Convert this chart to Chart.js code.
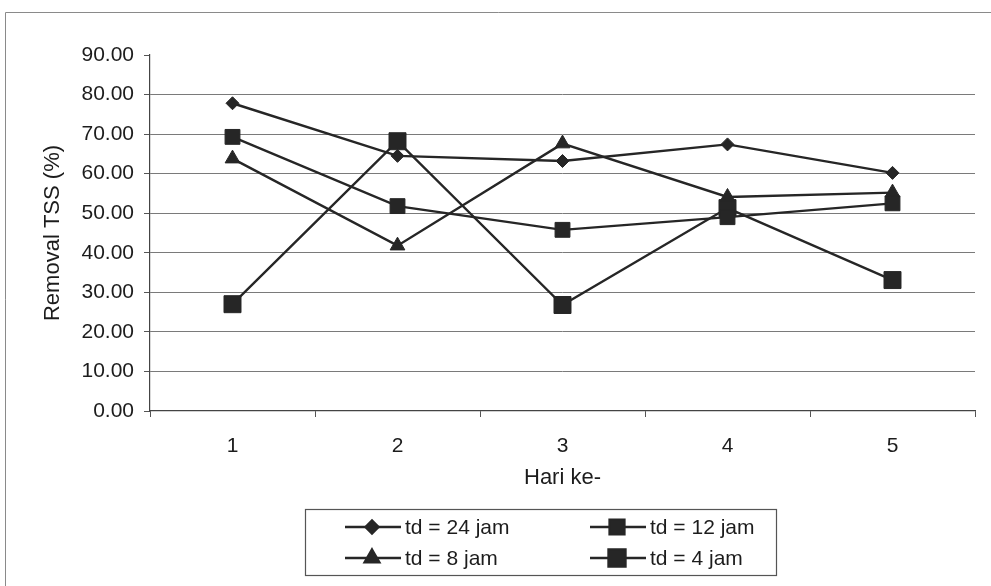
<!DOCTYPE html>
<html>
<head>
<meta charset="utf-8">
<script src="https://cdn.jsdelivr.net/npm/chart.js@4/dist/chart.umd.min.js"></script>
<style>
  html, body { margin: 0; padding: 0; background: #ffffff; }
  #wrap { position: relative; width: 991px; height: 586px; }
  canvas { display: block; }
</style>
</head>
<body>
<div id="wrap"><canvas id="c" width="991" height="586"></canvas></div>
<script>
// Days of observation
const days = ['1', '2', '3', '4', '5'];

// TSS removal (%) for each detention time
const td24 = [77.8, 64.5, 63.2, 67.4, 60.2];
const td12 = [69.3, 51.8, 45.8, 49.0, 52.5];
const td8  = [63.8, 41.8, 67.6, 54.1, 55.2];
const td4  = [27.0, 68.2, 26.8, 51.3, 33.1];

const seriesNames = ['td = 24 jam', 'td = 12 jam', 'td = 8 jam', 'td = 4 jam'];

// Y axis range and step
const yMin = 0, yMax = 90, yStep = 10;

const FONT = "'Liberation Sans', Arial, sans-serif";
const INK = '#262626';
const TEXT = '#1c1c1c';

function series(label, data, pointStyle, radius) {
  return {
    label, data, pointStyle,
    borderColor: INK,
    backgroundColor: INK,
    borderWidth: 2.4,
    pointRadius: radius,
    pointHoverRadius: radius,
    pointBackgroundColor: INK,
    pointBorderColor: INK,
    pointBorderWidth: 1,
    tension: 0,
    fill: false
  };
}

// Boxed legend below the plot, plus the thin outer frame
const boxedLegend = {
  id: 'boxedLegend',
  afterDraw(chart) {
    const ctx = chart.ctx;
    ctx.save();
    // outer frame
    ctx.strokeStyle = '#8a8a8a';
    ctx.lineWidth = 1;
    ctx.beginPath();
    ctx.moveTo(5.5, 586);
    ctx.lineTo(5.5, 12.5);
    ctx.lineTo(991, 12.5);
    ctx.stroke();

    // legend box
    const bx = 305.5, by = 509.5, bw = 471, bh = 66;
    ctx.strokeStyle = '#555';
    ctx.lineWidth = 1.2;
    ctx.strokeRect(bx, by, bw, bh);

    const cols = [345, 590];
    const rows = [527, 558];
    ctx.font = '21px ' + FONT;
    ctx.textBaseline = 'middle';
    chart.data.datasets.forEach((ds, i) => {
      const x = cols[i % 2];
      const y = rows[Math.floor(i / 2)];
      ctx.strokeStyle = INK;
      ctx.lineWidth = 2.4;
      ctx.beginPath();
      ctx.moveTo(x, y);
      ctx.lineTo(x + 56, y);
      ctx.stroke();
      ctx.fillStyle = INK;
      Chart.helpers.drawPoint(ctx, {
        pointStyle: ds.pointStyle,
        radius: ds.pointRadius,
        borderWidth: 1,
        rotation: 0
      }, x + 27, y);
      ctx.fillStyle = TEXT;
      ctx.fillText(ds.label, x + 60, y + 1);
    });
    ctx.restore();
  }
};

new Chart(document.getElementById('c'), {
  type: 'line',
  data: {
    labels: days,
    datasets: [
      series(seriesNames[0], td24, 'rectRot', 6.5),
      series(seriesNames[1], td12, 'rect', 10.5),
      series(seriesNames[2], td8, 'triangle', 8.5),
      series(seriesNames[3], td4, 'rect', 12)
    ]
  },
  options: {
    responsive: false,
    animation: false,
    devicePixelRatio: 1,
    layout: { padding: { top: 55, right: 16, left: 40, bottom: 90 } },
    plugins: {
      legend: { display: false },
      tooltip: { enabled: false }
    },
    scales: {
      x: {
        offset: true,
        afterFit(scale) { scale.height = 85; },
        grid: {
          offset: true,
          drawOnChartArea: false,
          drawTicks: true,
          tickLength: 6,
          tickColor: '#555',
          color: '#555'
        },
        border: { display: true, color: '#444', width: 1.2 },
        ticks: {
          color: TEXT,
          padding: 17,
          font: { family: FONT, size: 21 }
        },
        title: {
          display: true,
          text: 'Hari ke-',
          color: TEXT,
          padding: { top: 0, bottom: 5 },
          font: { family: FONT, size: 22 }
        }
      },
      y: {
        min: yMin,
        max: yMax,
        afterFit(scale) { scale.width = 110; },
        grid: {
          color: (c) => (c.tick && (c.tick.value === yMax || c.tick.value === yMin)) ? 'rgba(0,0,0,0)' : '#7a7a7a',
          lineWidth: 1,
          drawTicks: true,
          tickLength: 6,
          tickColor: '#555'
        },
        border: { display: true, color: '#444', width: 1.2 },
        ticks: {
          stepSize: yStep,
          color: TEXT,
          padding: 10,
          font: { family: FONT, size: 21 },
          callback: (v) => Number(v).toFixed(2)
        },
        title: {
          display: true,
          text: 'Removal TSS (%)',
          color: TEXT,
          padding: { top: 0, bottom: 0 },
          font: { family: FONT, size: 22 }
        }
      }
    }
  },
  plugins: [boxedLegend]
});
</script>
</body>
</html>
